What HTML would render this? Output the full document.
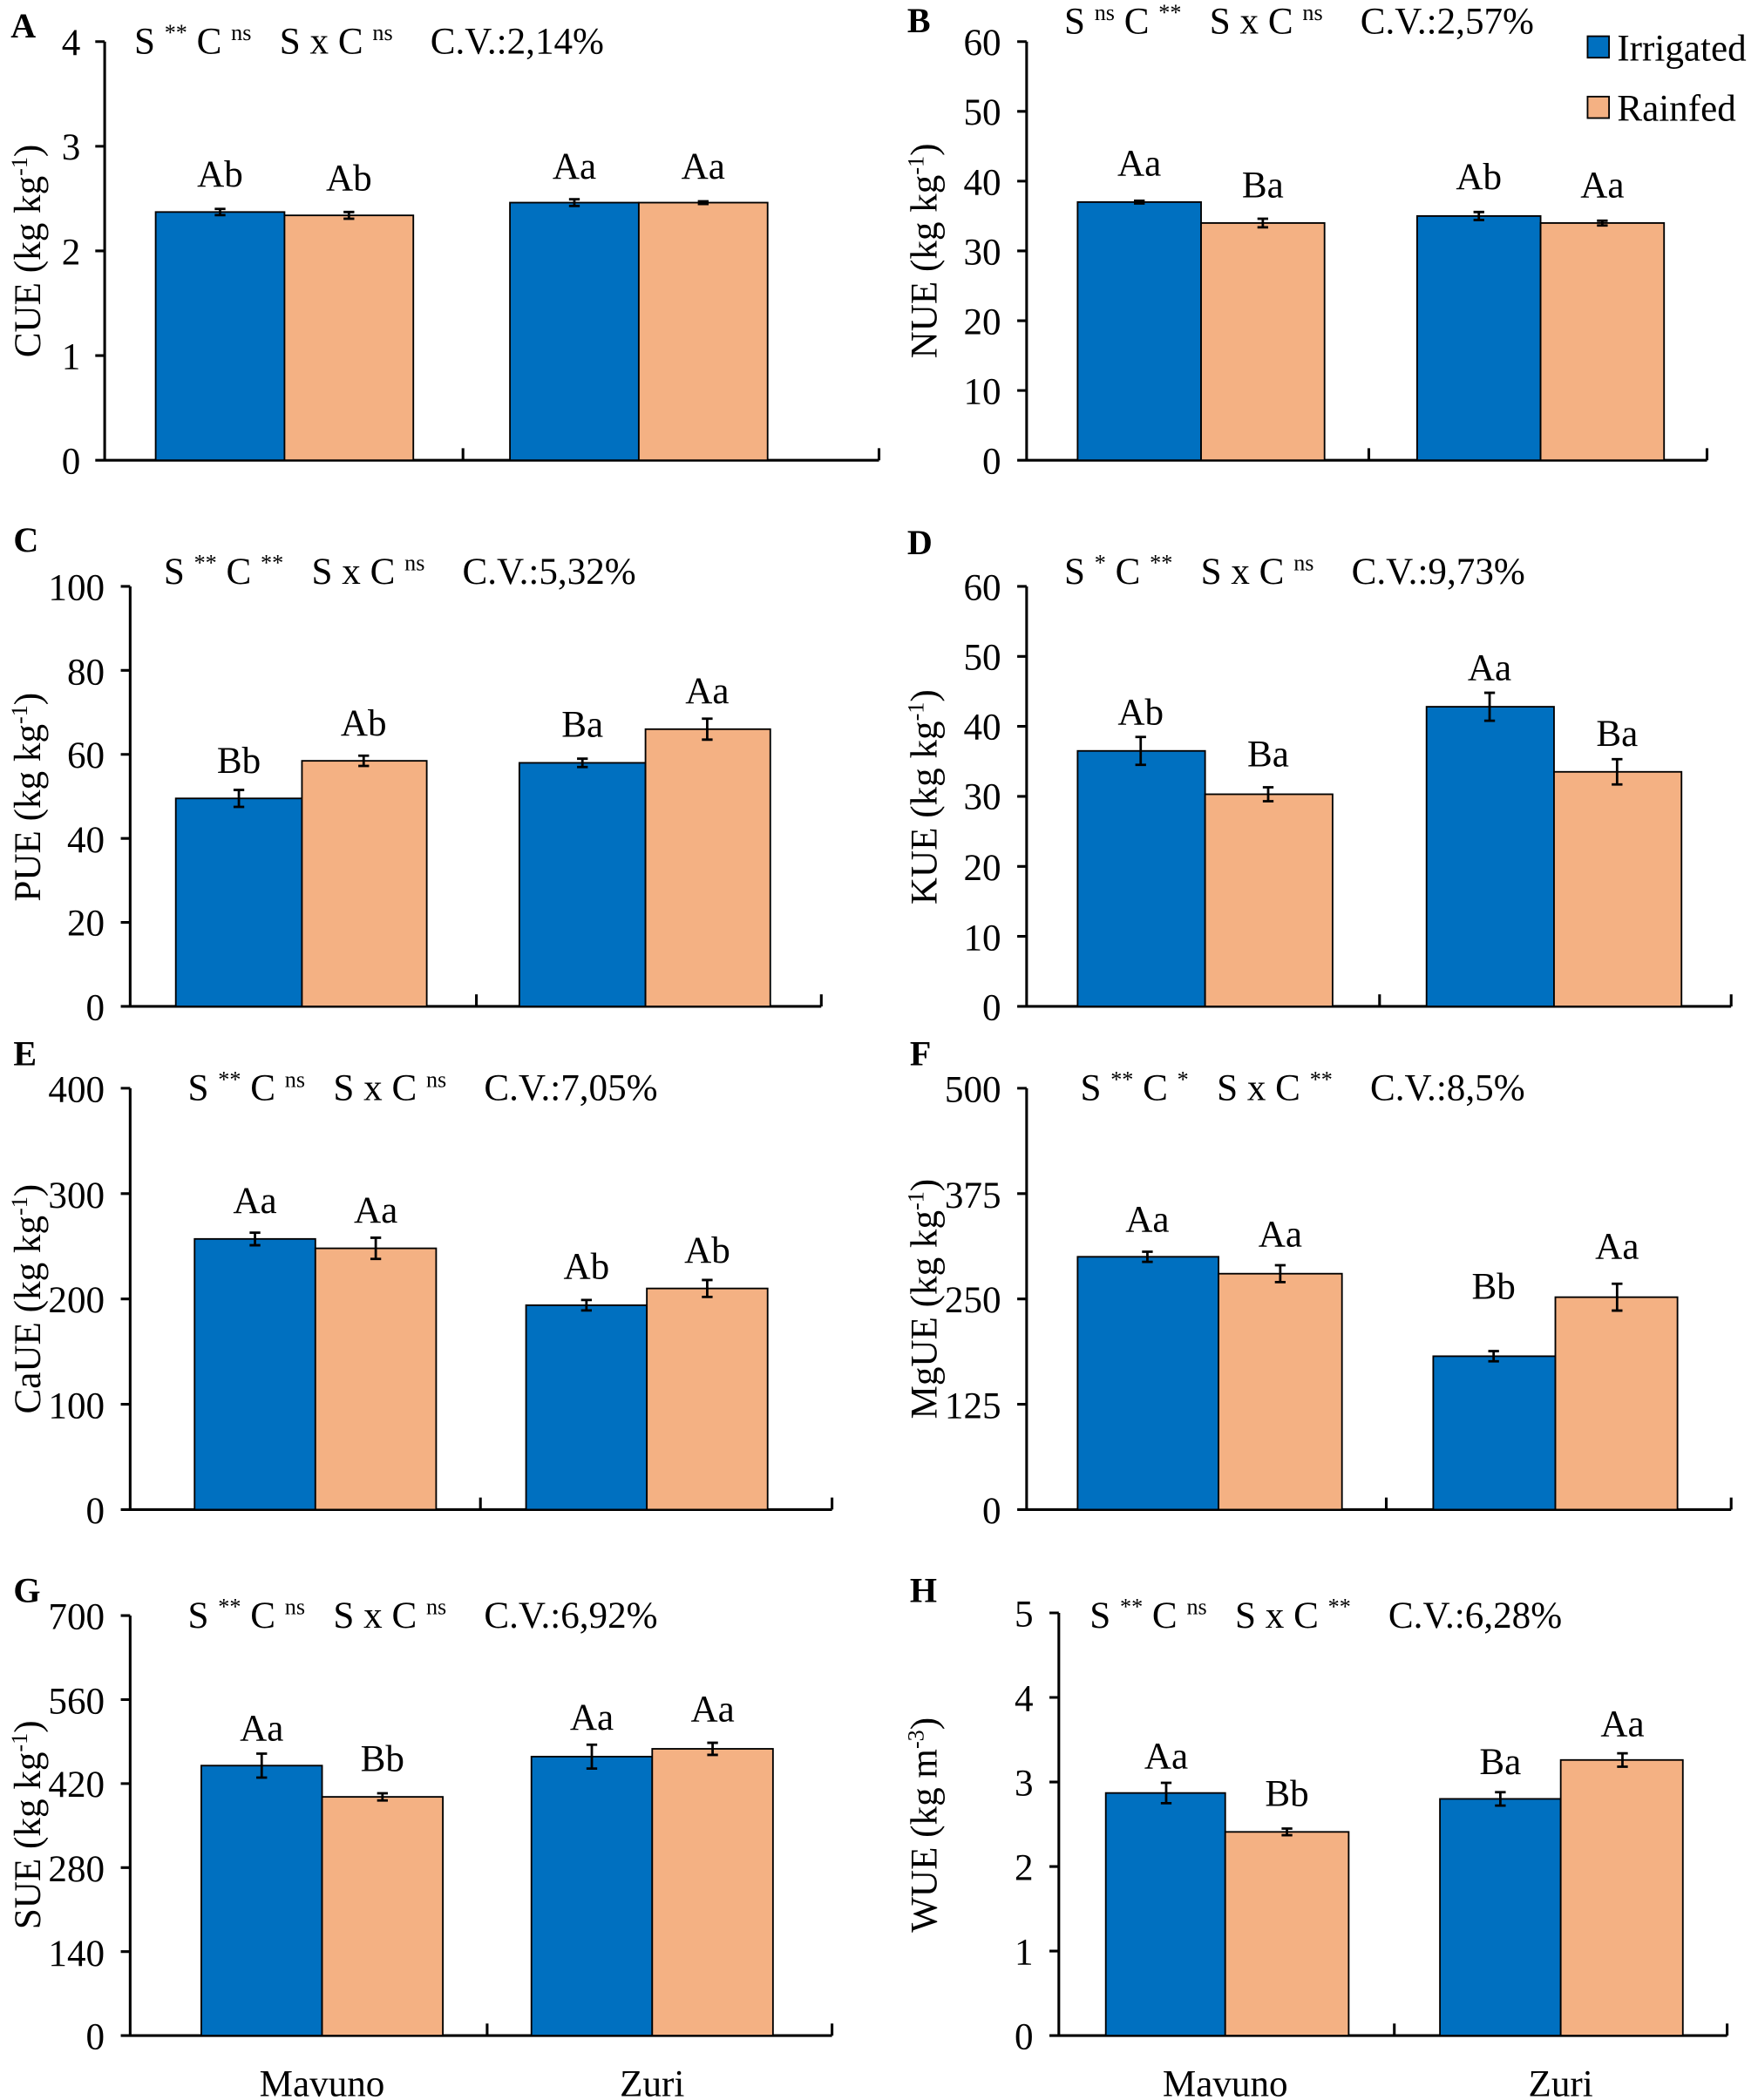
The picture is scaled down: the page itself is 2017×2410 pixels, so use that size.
<!DOCTYPE html>
<html><head><meta charset="utf-8"><style>
html,body{margin:0;padding:0;background:#fff}
svg{display:block}
text{font-family:"Liberation Serif",serif;fill:#000;white-space:pre}
.t{font-size:28px}
.l{font-size:28px}
.s{font-size:28px}
.p{font-size:26px;font-weight:bold}
.b{fill:#0070C0;stroke:#000;stroke-width:1.2}
.o{fill:#F4B183;stroke:#000;stroke-width:1.2}
.ax{stroke:#000;stroke-width:2;fill:none}
.e{stroke:#000;stroke-width:1.8;fill:none}
</style></head><body>
<svg width="2017" height="2410" viewBox="0 0 1310 1565" preserveAspectRatio="none" xml:space="preserve">
<!-- Panel A -->
<text class="p" x="8" y="28">A</text>
<text class="s" x="100" y="40">S <tspan font-size="17" dy="-10">**</tspan><tspan dy="10"> C </tspan><tspan font-size="17" dy="-10">ns</tspan><tspan dy="10">   S x C </tspan><tspan font-size="17" dy="-10">ns</tspan><tspan dy="10">    C.V.:2,14%</tspan></text>
<path class="ax" d="M78 31V343M71 31H78M71 109H78M71 187H78M71 265H78M71 343H78M72 343H655M345 343V334M655 343V334"/>
<g class="t" text-anchor="end"><text x="60" y="353">0</text><text x="60" y="275">1</text><text x="60" y="197">2</text><text x="60" y="119">3</text><text x="60" y="41">4</text></g>
<text class="l" transform="translate(30,187) rotate(-90)" text-anchor="middle">CUE (kg kg<tspan font-size="17" dy="-10">-1</tspan><tspan dy="10">)</tspan></text>
<rect class="b" x="116" y="158" width="96" height="185"/><rect class="o" x="212" y="160.5" width="96" height="182.5"/>
<rect class="b" x="380" y="151" width="96" height="192"/><rect class="o" x="476" y="151" width="96" height="192"/>
<path class="e" d="M164 155.7V160.3M160 155.7H168M160 160.3H168M260 158V163M256 158H264M256 163H264M428 148.5V153.5M424 148.5H432M424 153.5H432M524 150V152M520 150H528M520 152H528"/>
<g class="l" text-anchor="middle"><text x="164" y="139">Ab</text><text x="260" y="142">Ab</text><text x="428" y="133">Aa</text><text x="524" y="133">Aa</text></g>

<!-- Panel B -->
<text class="p" x="676" y="24">B</text>
<text class="s" x="793" y="25">S <tspan font-size="17" dy="-10">ns</tspan><tspan dy="10"> C </tspan><tspan font-size="17" dy="-10">**</tspan><tspan dy="10">   S x C </tspan><tspan font-size="17" dy="-10">ns</tspan><tspan dy="10">    C.V.:2,57%</tspan></text>
<path class="ax" d="M765 31V343M758 31H765M758 83H765M758 135H765M758 187H765M758 239H765M758 291H765M758 343H765M759 343H1272M1020 343V334M1272 343V334"/>
<g class="t" text-anchor="end"><text x="746" y="353">0</text><text x="746" y="301">10</text><text x="746" y="249">20</text><text x="746" y="197">30</text><text x="746" y="145">40</text><text x="746" y="93">50</text><text x="746" y="41">60</text></g>
<text class="l" transform="translate(698,187) rotate(-90)" text-anchor="middle">NUE (kg kg<tspan font-size="17" dy="-10">-1</tspan><tspan dy="10">)</tspan></text>
<rect class="b" x="803" y="150.6" width="92" height="192.4"/><rect class="o" x="895" y="166.2" width="92" height="176.8"/>
<rect class="b" x="1056" y="161" width="92" height="182"/><rect class="o" x="1148" y="166.2" width="92" height="176.8"/>
<path class="e" d="M849 149.6V151.6M845 149.6H853M845 151.6H853M941 163V169.4M937 163H945M937 169.4H945M1102 158V164M1098 158H1106M1098 164H1106M1194 164.5V168M1190 164.5H1198M1190 168H1198"/>
<g class="l" text-anchor="middle"><text x="849" y="131">Aa</text><text x="941" y="147">Ba</text><text x="1102" y="141">Ab</text><text x="1194" y="147">Aa</text></g>
<rect class="b" x="1183" y="27" width="16" height="16"/><text class="l" x="1205" y="45">Irrigated</text>
<rect class="o" x="1183" y="72" width="16" height="16"/><text class="l" x="1205" y="90">Rainfed</text>

<!-- Panel C -->
<text class="p" x="10" y="411">C</text>
<text class="s" x="122" y="435">S <tspan font-size="17" dy="-10">**</tspan><tspan dy="10"> C </tspan><tspan font-size="17" dy="-10">**</tspan><tspan dy="10">   S x C </tspan><tspan font-size="17" dy="-10">ns</tspan><tspan dy="10">    C.V.:5,32%</tspan></text>
<path class="ax" d="M97 437V750M90 437H97M90 499.6H97M90 562.2H97M90 624.8H97M90 687.4H97M90 750H97M91 750H612M355 750V741M612 750V741"/>
<g class="t" text-anchor="end"><text x="78" y="760">0</text><text x="78" y="697">20</text><text x="78" y="635">40</text><text x="78" y="572">60</text><text x="78" y="510">80</text><text x="78" y="447">100</text></g>
<text class="l" transform="translate(30,594) rotate(-90)" text-anchor="middle">PUE (kg kg<tspan font-size="17" dy="-10">-1</tspan><tspan dy="10">)</tspan></text>
<rect class="b" x="131" y="595" width="94" height="155"/><rect class="o" x="225" y="567" width="93" height="183"/>
<rect class="b" x="387" y="568.5" width="94" height="181.5"/><rect class="o" x="481" y="543.4" width="93" height="206.6"/>
<path class="e" d="M178 588.7V601.3M174 588.7H182M174 601.3H182M271 563.2V570.8M267 563.2H275M267 570.8H275M434 565.4V571.6M430 565.4H438M430 571.6H438M527 535.6V551.2M523 535.6H531M523 551.2H531"/>
<g class="l" text-anchor="middle"><text x="178" y="576">Bb</text><text x="271" y="548">Ab</text><text x="434" y="549">Ba</text><text x="527" y="524">Aa</text></g>

<!-- Panel D -->
<text class="p" x="676" y="413">D</text>
<text class="s" x="793" y="435">S <tspan font-size="17" dy="-10">*</tspan><tspan dy="10"> C </tspan><tspan font-size="17" dy="-10">**</tspan><tspan dy="10">   S x C </tspan><tspan font-size="17" dy="-10">ns</tspan><tspan dy="10">    C.V.:9,73%</tspan></text>
<path class="ax" d="M765 437V750M758 437H765M758 489.2H765M758 541.3H765M758 593.5H765M758 645.7H765M758 697.8H765M758 750H765M759 750H1290M1028 750V741M1290 750V741"/>
<g class="t" text-anchor="end"><text x="746" y="760">0</text><text x="746" y="708">10</text><text x="746" y="656">20</text><text x="746" y="603">30</text><text x="746" y="551">40</text><text x="746" y="499">50</text><text x="746" y="447">60</text></g>
<text class="l" transform="translate(698,594) rotate(-90)" text-anchor="middle">KUE (kg kg<tspan font-size="17" dy="-10">-1</tspan><tspan dy="10">)</tspan></text>
<rect class="b" x="803" y="559.6" width="95" height="190.4"/><rect class="o" x="898" y="591.9" width="95" height="158.1"/>
<rect class="b" x="1063" y="526.7" width="95" height="223.3"/><rect class="o" x="1158" y="575.2" width="95" height="174.8"/>
<path class="e" d="M850 549.2V570M846 549.2H854M846 570H854M945 586.7V597.1M941 586.7H949M941 597.1H949M1110 516.3V537.1M1106 516.3H1114M1106 537.1H1114M1205 565.8V584.6M1201 565.8H1209M1201 584.6H1209"/>
<g class="l" text-anchor="middle"><text x="850" y="540">Ab</text><text x="945" y="571">Ba</text><text x="1110" y="507">Aa</text><text x="1205" y="556">Ba</text></g>

<!-- Panel E -->
<text class="p" x="10" y="794">E</text>
<text class="s" x="140" y="820">S <tspan font-size="17" dy="-10">**</tspan><tspan dy="10"> C </tspan><tspan font-size="17" dy="-10">ns</tspan><tspan dy="10">   S x C </tspan><tspan font-size="17" dy="-10">ns</tspan><tspan dy="10">    C.V.:7,05%</tspan></text>
<path class="ax" d="M97 811V1125M90 811H97M90 889.5H97M90 968H97M90 1046.5H97M90 1125H97M91 1125H620M358 1125V1116M620 1125V1116"/>
<g class="t" text-anchor="end"><text x="78" y="1135">0</text><text x="78" y="1057">100</text><text x="78" y="978">200</text><text x="78" y="900">300</text><text x="78" y="821">400</text></g>
<text class="l" transform="translate(30,968) rotate(-90)" text-anchor="middle">CaUE (kg kg<tspan font-size="17" dy="-10">-1</tspan><tspan dy="10">)</tspan></text>
<rect class="b" x="145" y="923.3" width="90" height="201.7"/><rect class="o" x="235" y="930.3" width="90" height="194.7"/>
<rect class="b" x="392" y="972.7" width="90" height="152.3"/><rect class="o" x="482" y="960.2" width="90" height="164.8"/>
<path class="e" d="M190 918.6V928M186 918.6H194M186 928H194M280 922.4V938.2M276 922.4H284M276 938.2H284M437 968.8V976.6M433 968.8H441M433 976.6H441M527 953.9V966.5M523 953.9H531M523 966.5H531"/>
<g class="l" text-anchor="middle"><text x="190" y="904">Aa</text><text x="280" y="911">Aa</text><text x="437" y="953">Ab</text><text x="527" y="941">Ab</text></g>

<!-- Panel F -->
<text class="p" x="678" y="794">F</text>
<text class="s" x="805" y="820">S <tspan font-size="17" dy="-10">**</tspan><tspan dy="10"> C </tspan><tspan font-size="17" dy="-10">*</tspan><tspan dy="10">   S x C </tspan><tspan font-size="17" dy="-10">**</tspan><tspan dy="10">    C.V.:8,5%</tspan></text>
<path class="ax" d="M765 811V1125M758 811H765M758 889.5H765M758 968H765M758 1046.5H765M758 1125H765M759 1125H1290M1033 1125V1116M1290 1125V1116"/>
<g class="t" text-anchor="end"><text x="746" y="1135">0</text><text x="746" y="1057">125</text><text x="746" y="978">250</text><text x="746" y="900">375</text><text x="746" y="821">500</text></g>
<text class="l" transform="translate(698,968) rotate(-90)" text-anchor="middle">MgUE (kg kg<tspan font-size="17" dy="-10">-1</tspan><tspan dy="10">)</tspan></text>
<rect class="b" x="803" y="936.6" width="105" height="188.4"/><rect class="o" x="908" y="949.2" width="92" height="175.8"/>
<rect class="b" x="1068" y="1010.7" width="91" height="114.3"/><rect class="o" x="1159" y="966.7" width="91" height="158.3"/>
<path class="e" d="M855 932.8V940.4M851 932.8H859M851 940.4H859M954 942.9V955.5M950 942.9H958M950 955.5H958M1113 1006.9V1014.5M1109 1006.9H1117M1109 1014.5H1117M1205 956.7V976.7M1201 956.7H1209M1201 976.7H1209"/>
<g class="l" text-anchor="middle"><text x="855" y="918">Aa</text><text x="954" y="929">Aa</text><text x="1113" y="968">Bb</text><text x="1205" y="938">Aa</text></g>

<!-- Panel G -->
<text class="p" x="10" y="1194">G</text>
<text class="s" x="140" y="1213">S <tspan font-size="17" dy="-10">**</tspan><tspan dy="10"> C </tspan><tspan font-size="17" dy="-10">ns</tspan><tspan dy="10">   S x C </tspan><tspan font-size="17" dy="-10">ns</tspan><tspan dy="10">    C.V.:6,92%</tspan></text>
<path class="ax" d="M97 1204V1517M90 1204H97M90 1266.6H97M90 1329.2H97M90 1391.8H97M90 1454.4H97M90 1517H97M91 1517H620M363 1517V1508M620 1517V1508"/>
<g class="t" text-anchor="end"><text x="78" y="1527">0</text><text x="78" y="1465">140</text><text x="78" y="1402">280</text><text x="78" y="1339">420</text><text x="78" y="1277">560</text><text x="78" y="1214">700</text></g>
<text class="l" transform="translate(30,1360) rotate(-90)" text-anchor="middle">SUE (kg kg<tspan font-size="17" dy="-10">-1</tspan><tspan dy="10">)</tspan></text>
<rect class="b" x="150" y="1315.8" width="90" height="201.2"/><rect class="o" x="240" y="1339.1" width="90" height="177.9"/>
<rect class="b" x="396" y="1309.1" width="90" height="207.9"/><rect class="o" x="486" y="1303.3" width="90" height="213.7"/>
<path class="e" d="M195 1306.9V1324.7M191 1306.9H199M191 1324.7H199M285 1336.4V1341.8M281 1336.4H289M281 1341.8H289M441 1300.2V1318M437 1300.2H445M437 1318H445M531 1298.8V1307.8M527 1298.8H535M527 1307.8H535"/>
<g class="l" text-anchor="middle"><text x="195" y="1297">Aa</text><text x="285" y="1320">Bb</text><text x="441" y="1289">Aa</text><text x="531" y="1283">Aa</text></g>
<g class="l" text-anchor="middle"><text x="240" y="1562">Mavuno</text><text x="486" y="1562">Zuri</text></g>

<!-- Panel H -->
<text class="p" x="678" y="1194">H</text>
<text class="s" x="812" y="1213">S <tspan font-size="17" dy="-10">**</tspan><tspan dy="10"> C </tspan><tspan font-size="17" dy="-10">ns</tspan><tspan dy="10">   S x C </tspan><tspan font-size="17" dy="-10">**</tspan><tspan dy="10">    C.V.:6,28%</tspan></text>
<path class="ax" d="M789 1202V1517M782 1202H789M782 1265H789M782 1328H789M782 1391H789M782 1454H789M782 1517H789M783 1517H1287M1039 1517V1508M1287 1517V1508"/>
<g class="t" text-anchor="end"><text x="770" y="1527">0</text><text x="770" y="1464">1</text><text x="770" y="1401">2</text><text x="770" y="1338">3</text><text x="770" y="1275">4</text><text x="770" y="1212">5</text></g>
<text class="l" transform="translate(698,1360) rotate(-90)" text-anchor="middle">WUE (kg m<tspan font-size="17" dy="-10">-3</tspan><tspan dy="10">)</tspan></text>
<rect class="b" x="824" y="1336.2" width="89" height="180.8"/><rect class="o" x="913" y="1365.2" width="92" height="151.8"/>
<rect class="b" x="1073" y="1340.6" width="90" height="176.4"/><rect class="o" x="1163" y="1311.6" width="91" height="205.4"/>
<path class="e" d="M869 1328.6V1343.8M865 1328.6H873M865 1343.8H873M959 1362.7V1367.7M955 1362.7H963M955 1367.7H963M1118 1335.6V1345.6M1114 1335.6H1122M1114 1345.6H1122M1209 1306.6V1316.6M1205 1306.6H1213M1205 1316.6H1213"/>
<g class="l" text-anchor="middle"><text x="869" y="1318">Aa</text><text x="959" y="1346">Bb</text><text x="1118" y="1322">Ba</text><text x="1209" y="1294">Aa</text></g>
<g class="l" text-anchor="middle"><text x="913" y="1562">Mavuno</text><text x="1163" y="1562">Zuri</text></g>
</svg>
</body></html>
